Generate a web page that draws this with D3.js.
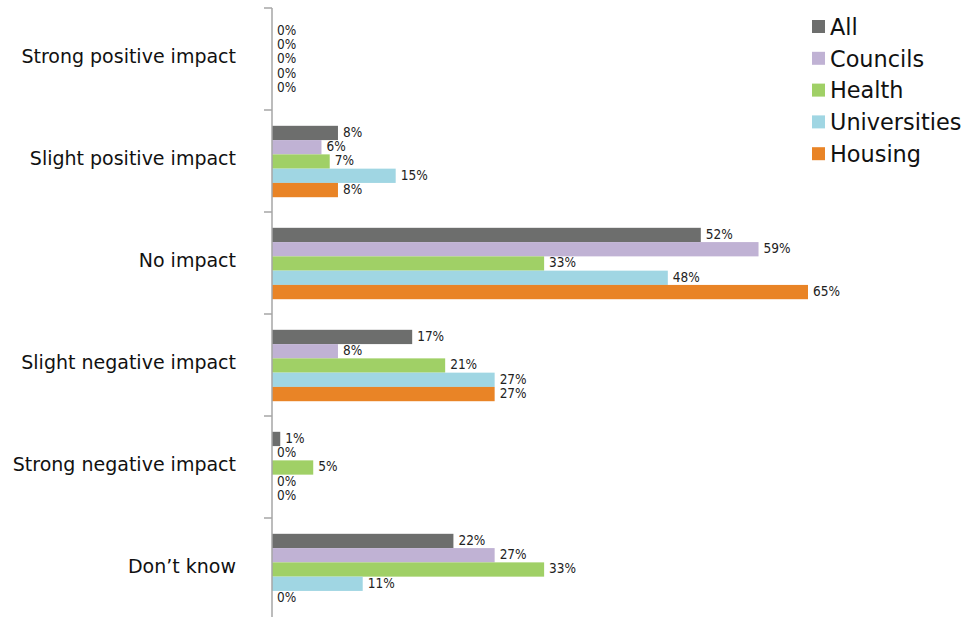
<!DOCTYPE html>
<html><head><meta charset="utf-8">
<script src="https://cdn.jsdelivr.net/npm/d3@7"></script>
<style>body{margin:0;background:#fff}svg{display:block}</style>
</head><body>
<svg id="c" width="965" height="617"></svg>
<script>
const categories = ["Strong positive impact","Slight positive impact","No impact","Slight negative impact","Strong negative impact","Don\u2019t know"];
const seriesNames = ["All","Councils","Health","Universities","Housing"];
const seriesColors = ["#6d6e6d","#c0b2d4","#a0d066","#a0d6e3","#e98426"];
const allValues = [0,8,52,17,1,22];
const councilsValues = [0,6,59,8,0,27];
const healthValues = [0,7,33,21,5,33];
const universitiesValues = [0,15,48,27,0,11];
const housingValues = [0,8,65,27,0,0];
const seriesValues = [allValues,councilsValues,healthValues,universitiesValues,housingValues];

const svg = d3.select("#c");
const x0 = 272;
const x = d3.scaleLinear().domain([0,65]).range([x0, 808]);
const y = d3.scaleBand().domain(categories).range([8,620]).padding(0);
const bw = y.bandwidth();
const ys = d3.scaleBand().domain(seriesNames).range([bw*0.155, bw*0.855]).padding(0);

const g = svg.append("g");
seriesNames.forEach((s,si)=>{
  categories.forEach((c,ci)=>{
    const v = seriesValues[si][ci];
    const yy = y(c)+ys(s);
    if(v>0){
      g.append("rect").attr("x",x(0)).attr("y",yy).attr("width",x(v)-x(0)).attr("height",ys.bandwidth()).attr("fill",seriesColors[si]);
    }
    g.append("text").attr("x",x(v)+5).attr("y",yy+ys.bandwidth()/2-1).attr("dy","0.35em")
      .attr("font-family","DejaVu Sans Condensed, DejaVu Sans").attr("font-size",13.5).attr("fill","#222")
      .text(v+"%");
  });
});

// axis
const ax = svg.append("g").attr("transform",`translate(${x0},0)`);
ax.append("line").attr("x1",0).attr("x2",0).attr("y1",8).attr("y2",620).attr("stroke","#a6a6a6").attr("stroke-width",1.5);
categories.concat(["_end"]).forEach((c,i)=>{
  const yy = 8 + i*bw;
  ax.append("line").attr("x1",-8).attr("x2",0).attr("y1",yy).attr("y2",yy).attr("stroke","#a6a6a6").attr("stroke-width",1.5);
});
categories.forEach(c=>{
  svg.append("text").attr("x",236).attr("y",y(c)+bw/2-3).attr("dy","0.35em").attr("text-anchor","end")
    .attr("font-family","DejaVu Sans").attr("font-size",19).attr("fill","#111").text(c);
});

// legend
const lg = svg.append("g").attr("transform","translate(812,27)");
seriesNames.forEach((s,i)=>{
  const r = lg.append("g").attr("transform",`translate(0,${i*31.8})`);
  r.append("rect").attr("x",0).attr("y",-7).attr("width",13).attr("height",13).attr("fill",seriesColors[i]);
  r.append("text").attr("x",18).attr("y",0).attr("dy","0.35em").attr("font-family","DejaVu Sans").attr("font-size",22.4).attr("fill","#111").text(s);
});
</script>
</body></html>
